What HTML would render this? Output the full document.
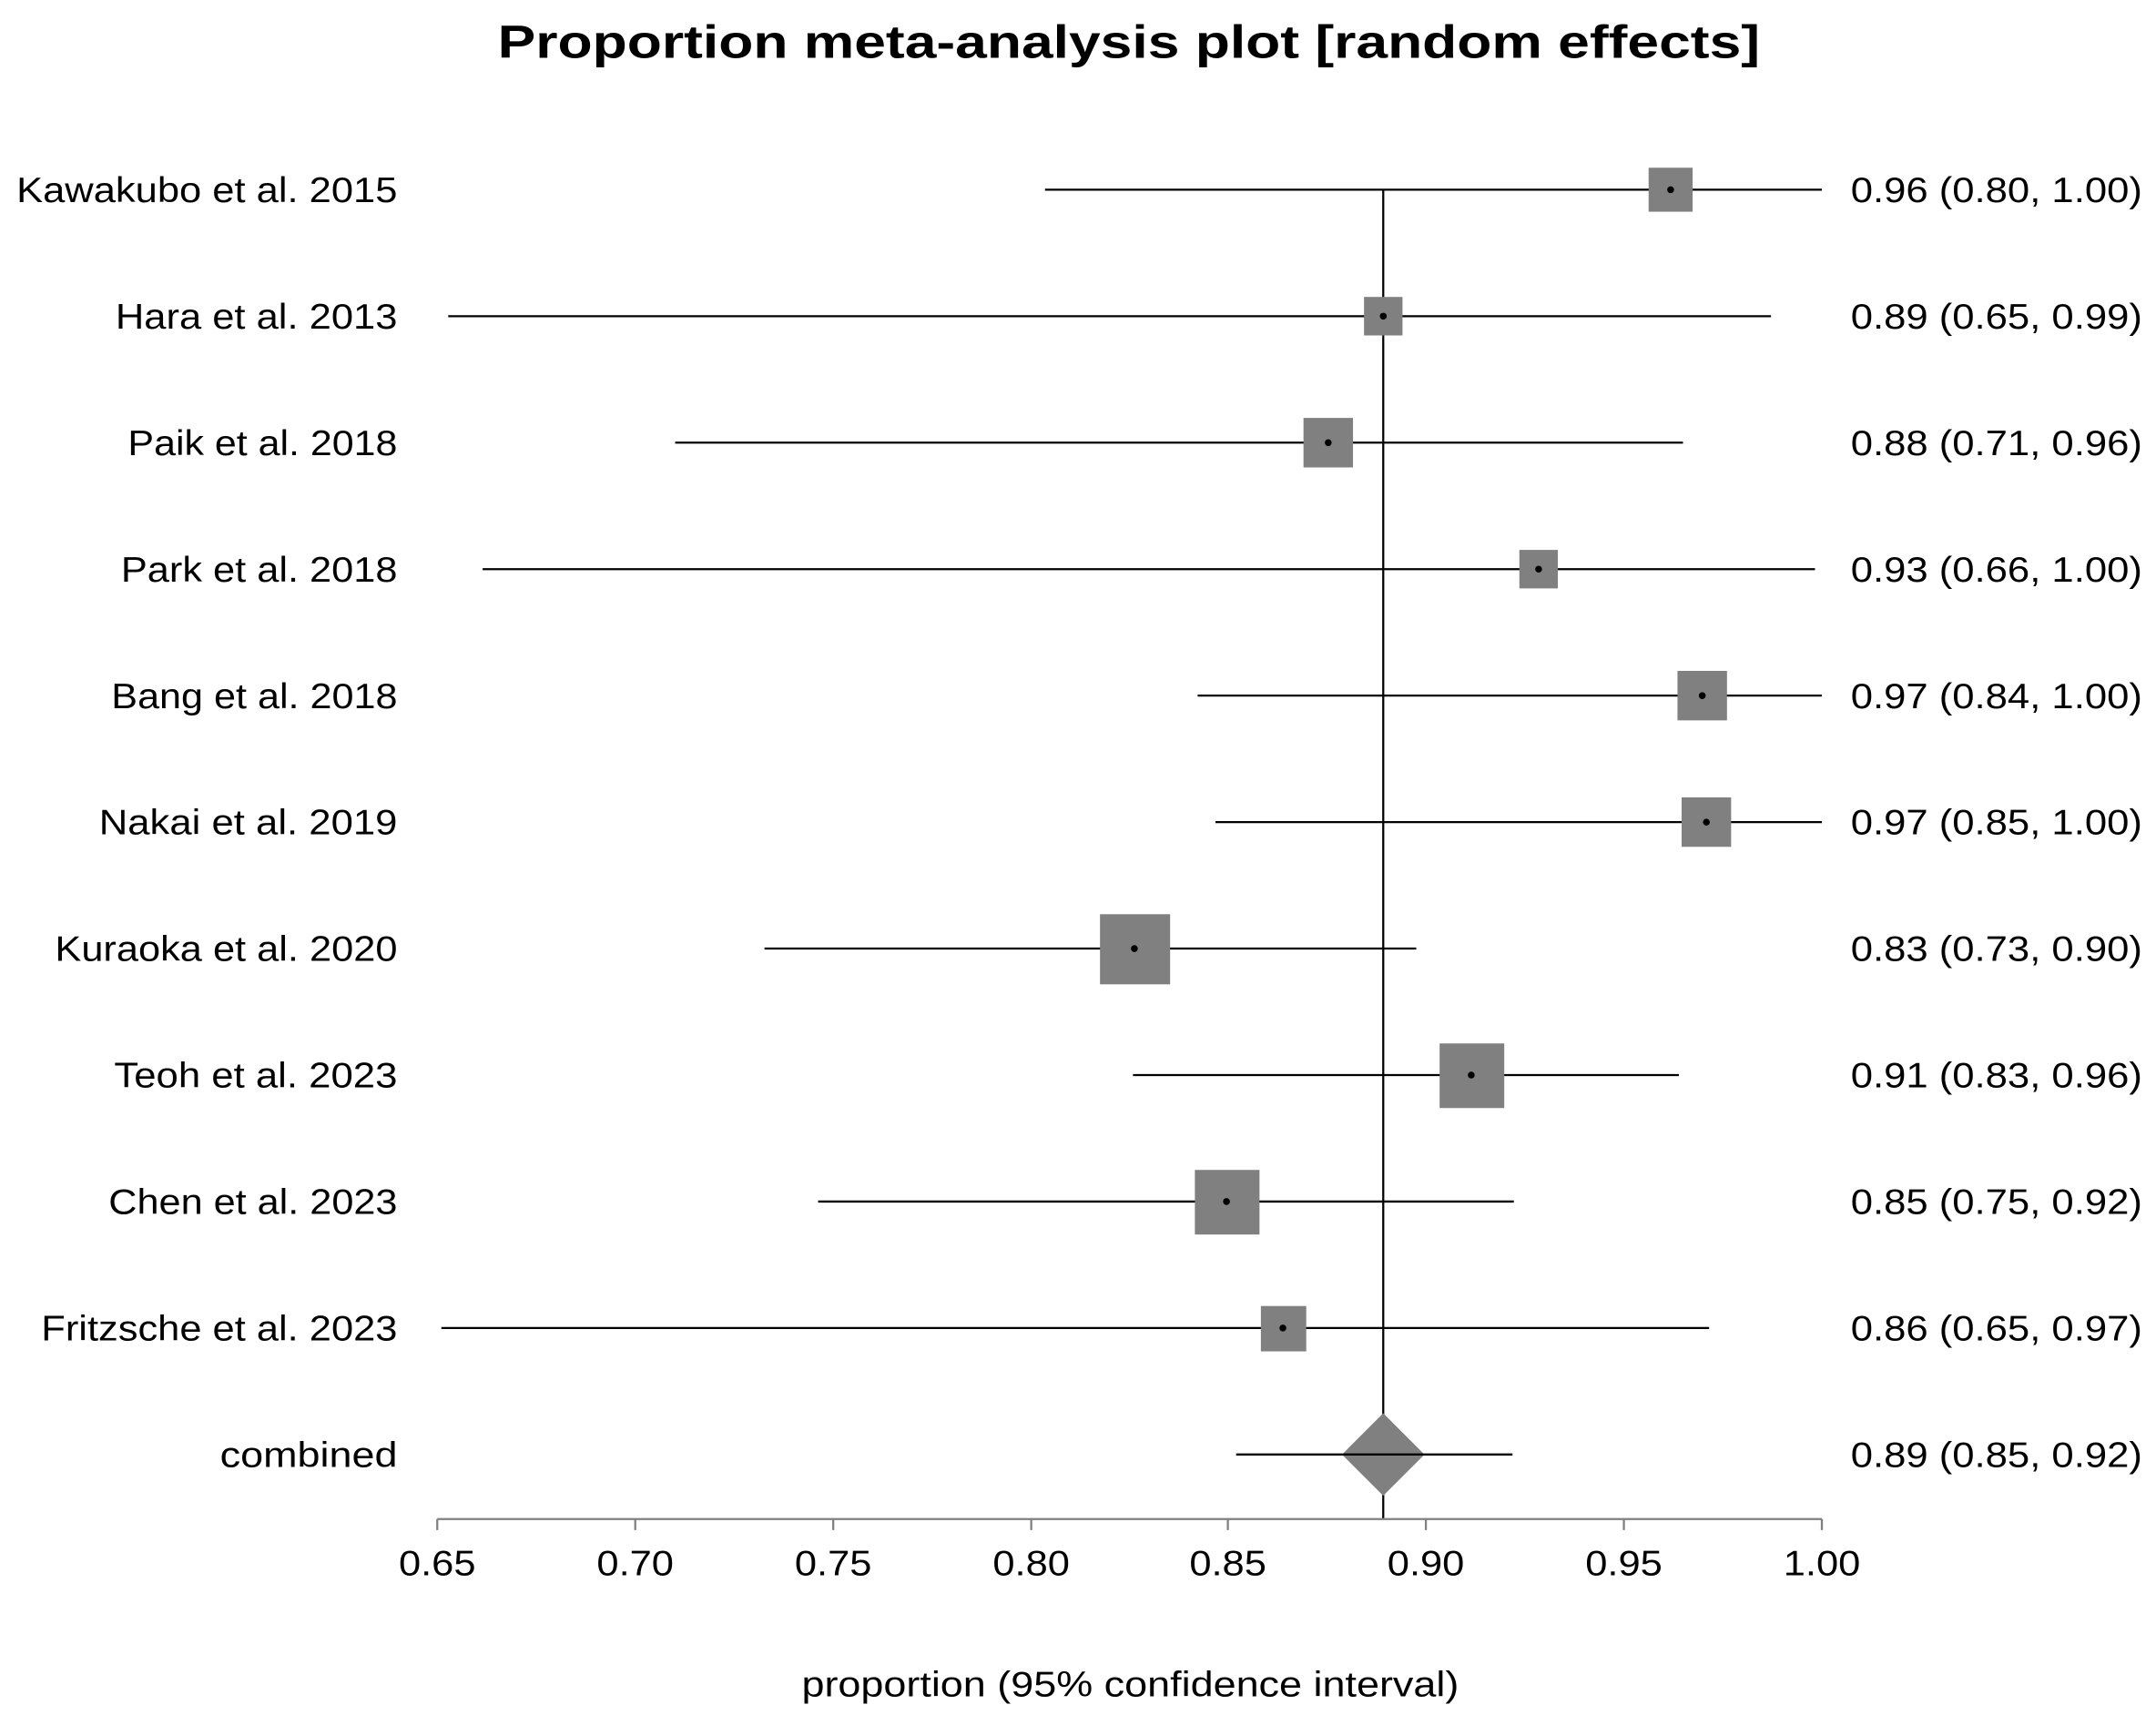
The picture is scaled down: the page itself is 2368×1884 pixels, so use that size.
<!DOCTYPE html>
<html><head><meta charset="utf-8"><style>html,body{margin:0;padding:0;background:#fff}svg{display:block}</style></head>
<body>
<svg width="2368" height="1884" viewBox="0 0 1568 1247.5" preserveAspectRatio="none" xmlns="http://www.w3.org/2000/svg" font-family="Liberation Sans, sans-serif">
<text x="821" y="42" text-anchor="middle" font-size="34" font-weight="bold" textLength="918" lengthAdjust="spacingAndGlyphs">Proportion meta-analysis plot [random effects]</text>
<g font-size="26" fill="#000">
<text x="289" y="147" text-anchor="end" textLength="277" lengthAdjust="spacingAndGlyphs">Kawakubo et al. 2015</text>
<text x="289" y="239" text-anchor="end" textLength="205" lengthAdjust="spacingAndGlyphs">Hara et al. 2013</text>
<text x="289" y="331" text-anchor="end" textLength="196" lengthAdjust="spacingAndGlyphs">Paik et al. 2018</text>
<text x="289" y="423" text-anchor="end" textLength="201" lengthAdjust="spacingAndGlyphs">Park et al. 2018</text>
<text x="289" y="515" text-anchor="end" textLength="208" lengthAdjust="spacingAndGlyphs">Bang et al. 2018</text>
<text x="289" y="607" text-anchor="end" textLength="217" lengthAdjust="spacingAndGlyphs">Nakai et al. 2019</text>
<text x="289" y="699" text-anchor="end" textLength="249" lengthAdjust="spacingAndGlyphs">Kuraoka et al. 2020</text>
<text x="289" y="791" text-anchor="end" textLength="206" lengthAdjust="spacingAndGlyphs">Teoh et al. 2023</text>
<text x="289" y="883" text-anchor="end" textLength="210" lengthAdjust="spacingAndGlyphs">Chen et al. 2023</text>
<text x="289" y="975" text-anchor="end" textLength="259" lengthAdjust="spacingAndGlyphs">Fritzsche et al. 2023</text>
<text x="289" y="1067" text-anchor="end" textLength="129" lengthAdjust="spacingAndGlyphs">combined</text>
</g>
<g font-size="26" fill="#000" text-anchor="end">
<text x="1558" y="147" textLength="212" lengthAdjust="spacingAndGlyphs">0.96 (0.80, 1.00)</text>
<text x="1558" y="239" textLength="212" lengthAdjust="spacingAndGlyphs">0.89 (0.65, 0.99)</text>
<text x="1558" y="331" textLength="212" lengthAdjust="spacingAndGlyphs">0.88 (0.71, 0.96)</text>
<text x="1558" y="423" textLength="212" lengthAdjust="spacingAndGlyphs">0.93 (0.66, 1.00)</text>
<text x="1558" y="515" textLength="212" lengthAdjust="spacingAndGlyphs">0.97 (0.84, 1.00)</text>
<text x="1558" y="607" textLength="212" lengthAdjust="spacingAndGlyphs">0.97 (0.85, 1.00)</text>
<text x="1558" y="699" textLength="212" lengthAdjust="spacingAndGlyphs">0.83 (0.73, 0.90)</text>
<text x="1558" y="791" textLength="212" lengthAdjust="spacingAndGlyphs">0.91 (0.83, 0.96)</text>
<text x="1558" y="883" textLength="212" lengthAdjust="spacingAndGlyphs">0.85 (0.75, 0.92)</text>
<text x="1558" y="975" textLength="212" lengthAdjust="spacingAndGlyphs">0.86 (0.65, 0.97)</text>
<text x="1558" y="1067" textLength="212" lengthAdjust="spacingAndGlyphs">0.89 (0.85, 0.92)</text>
</g>
<line x1="1006" y1="138" x2="1006" y2="1105" stroke="#000" stroke-width="1.5"/>
<g stroke="#000" stroke-width="1.5">
<line x1="760" y1="138" x2="1325" y2="138"/>
<line x1="326" y1="230" x2="1288" y2="230"/>
<line x1="491" y1="322" x2="1224" y2="322"/>
<line x1="351" y1="414" x2="1320" y2="414"/>
<line x1="871" y1="506" x2="1325" y2="506"/>
<line x1="884" y1="598" x2="1325" y2="598"/>
<line x1="556" y1="690" x2="1030" y2="690"/>
<line x1="824" y1="782" x2="1221" y2="782"/>
<line x1="595" y1="874" x2="1101" y2="874"/>
<line x1="321" y1="966" x2="1243" y2="966"/>
</g>
<g fill="#808080">
<rect x="1199" y="122" width="32" height="32"/>
<rect x="992" y="216" width="28" height="28"/>
<rect x="948" y="304" width="36" height="36"/>
<rect x="1105" y="400" width="28" height="28"/>
<rect x="1220" y="488" width="36" height="36"/>
<rect x="1223" y="580" width="36" height="36"/>
<rect x="800" y="665" width="51" height="51"/>
<rect x="1047" y="759" width="47" height="47"/>
<rect x="869" y="851" width="47" height="47"/>
<rect x="917" y="950" width="33" height="33"/>
<polygon points="976,1058 1006,1028 1036,1058 1006,1088"/>
</g>
<line x1="899" y1="1058" x2="1100" y2="1058" stroke="#000" stroke-width="1.5"/>
<g fill="#000">
<circle cx="1215" cy="138" r="2.5"/><circle cx="1006" cy="230" r="2.5"/><circle cx="966" cy="322" r="2.5"/>
<circle cx="1119" cy="414" r="2.5"/><circle cx="1238" cy="506" r="2.5"/><circle cx="1241" cy="598" r="2.5"/>
<circle cx="825" cy="690" r="2.5"/><circle cx="1070" cy="782" r="2.5"/><circle cx="892" cy="874" r="2.5"/>
<circle cx="933" cy="966" r="2.5"/>
</g>
<g stroke="#808080" stroke-width="1.5">
<line x1="318" y1="1105" x2="1325" y2="1105"/>
<line x1="318" y1="1105" x2="318" y2="1113"/><line x1="462" y1="1105" x2="462" y2="1113"/>
<line x1="606" y1="1105" x2="606" y2="1113"/><line x1="750" y1="1105" x2="750" y2="1113"/>
<line x1="893" y1="1105" x2="893" y2="1113"/><line x1="1037" y1="1105" x2="1037" y2="1113"/>
<line x1="1181" y1="1105" x2="1181" y2="1113"/><line x1="1325" y1="1105" x2="1325" y2="1113"/>
</g>
<g font-size="26" text-anchor="middle">
<text x="318" y="1146" textLength="56" lengthAdjust="spacingAndGlyphs">0.65</text>
<text x="462" y="1146" textLength="56" lengthAdjust="spacingAndGlyphs">0.70</text>
<text x="606" y="1146" textLength="56" lengthAdjust="spacingAndGlyphs">0.75</text>
<text x="750" y="1146" textLength="56" lengthAdjust="spacingAndGlyphs">0.80</text>
<text x="893" y="1146" textLength="56" lengthAdjust="spacingAndGlyphs">0.85</text>
<text x="1037" y="1146" textLength="56" lengthAdjust="spacingAndGlyphs">0.90</text>
<text x="1181" y="1146" textLength="56" lengthAdjust="spacingAndGlyphs">0.95</text>
<text x="1325" y="1146" textLength="56" lengthAdjust="spacingAndGlyphs">1.00</text>
<text x="822" y="1234" textLength="478" lengthAdjust="spacingAndGlyphs">proportion (95% confidence interval)</text>
</g>
</svg>
</body></html>
